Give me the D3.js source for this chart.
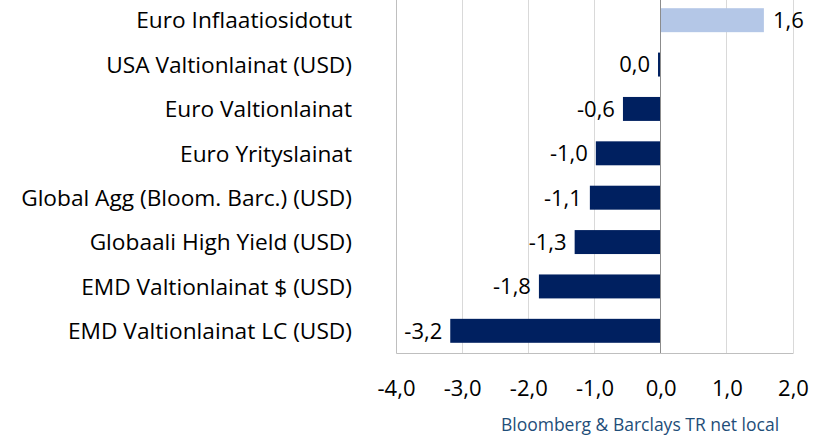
<!DOCTYPE html>
<html>
<head>
<meta charset="utf-8">
<script src="https://cdn.jsdelivr.net/npm/d3@7"></script>
<style>
  body { margin: 0; background: #fff; }
  svg { display: block; font-family: "Open Sans", "Noto Sans", sans-serif; }
</style>
</head>
<body>
<svg width="813" height="435"></svg>
<script>
const categories = ["Euro Inflaatiosidotut", "USA Valtionlainat (USD)", "Euro Valtionlainat",
    "Euro Yrityslainat", "Global Agg (Bloom. Barc.) (USD)", "Globaali High Yield (USD)",
    "EMD Valtionlainat $ (USD)", "EMD Valtionlainat LC (USD)"];
const values = [1.56, -0.04, -0.57, -0.98, -1.07, -1.30, -1.84, -3.18];
const xTicks = [-4, -3, -2, -1, 0, 1, 2];
const sourceText = "Bloomberg & Barclays TR net local";

const plotLeft = 396, plotRight = 793, plotTop = -2, plotBottom = 353;
const svg = d3.select("svg");

const x = d3.scaleLinear().domain([-4, 2]).range([plotLeft, plotRight]);
const y = d3.scaleBand().domain(categories).range([plotTop, plotBottom]).paddingInner(0.46).paddingOuter(0.23);

const fmt = v => (Math.abs(v) < 0.05 ? 0 : v).toFixed(1).replace(".", ",");

// gridlines
svg.append("g")
    .selectAll("line")
    .data(xTicks)
    .enter()
    .append("line")
    .attr("x1", d => x(d)).attr("x2", d => x(d))
    .attr("y1", plotTop).attr("y2", plotBottom)
    .attr("stroke", "#d9d9d9")
    .attr("stroke-width", 1)
    .attr("shape-rendering", "crispEdges");

// bars
svg.append("g")
    .selectAll("rect")
    .data(values)
    .enter()
    .append("rect")
    .attr("x", d => x(Math.min(0, d)))
    .attr("y", (d, i) => y(categories[i]))
    .attr("width", d => Math.abs(x(d) - x(0)))
    .attr("height", y.bandwidth())
    .attr("fill", d => d > 0 ? "#b4c7e7" : "#002060");

// zero line on top
svg.append("line")
    .attr("x1", x(0)).attr("x2", x(0))
    .attr("y1", plotTop).attr("y2", plotBottom)
    .attr("stroke", "#8c8c8c")
    .attr("shape-rendering", "crispEdges");

// value labels
svg.append("g")
    .selectAll("text")
    .data(values)
    .enter()
    .append("text")
    .attr("x", d => d > 0 ? x(d) + 9 : x(Math.min(d, 0)) - 8)
    .attr("y", (d, i) => y(categories[i]) + y.bandwidth() / 2)
    .attr("dy", "0.36em")
    .attr("text-anchor", d => d > 0 ? "start" : "end")
    .style("font-size", "22px")
    .attr("fill", "#000")
    .text(fmt);

// axes
const xAxis = d3.axisBottom(x).tickValues(xTicks).tickSize(0).tickPadding(27)
    .tickFormat(d => d.toFixed(1).replace(".", ","));
svg.append("g")
    .attr("transform", `translate(0,${plotBottom})`)
    .call(xAxis)
    .call(g => g.select(".domain").attr("stroke", "#bfbfbf"))
    .call(g => g.selectAll("text").style("font-size", "22px").attr("fill", "#000"))
    .attr("font-family", null);

const yAxis = d3.axisLeft(y).tickSize(0).tickPadding(44);
svg.append("g")
    .attr("transform", `translate(${plotLeft},0)`)
    .call(yAxis)
    .call(g => g.select(".domain").attr("stroke", "#bfbfbf"))
    .call(g => g.selectAll("text").style("font-size", "22.7px").attr("fill", "#000").attr("dy", "0.36em"))
    .attr("font-family", null);

svg.append("text")
    .attr("x", 640)
    .attr("y", 431)
    .attr("text-anchor", "middle")
    .style("font-size", "17.5px")
    .attr("fill", "#1f4e79")
    .text(sourceText);
</script>
</body>
</html>
